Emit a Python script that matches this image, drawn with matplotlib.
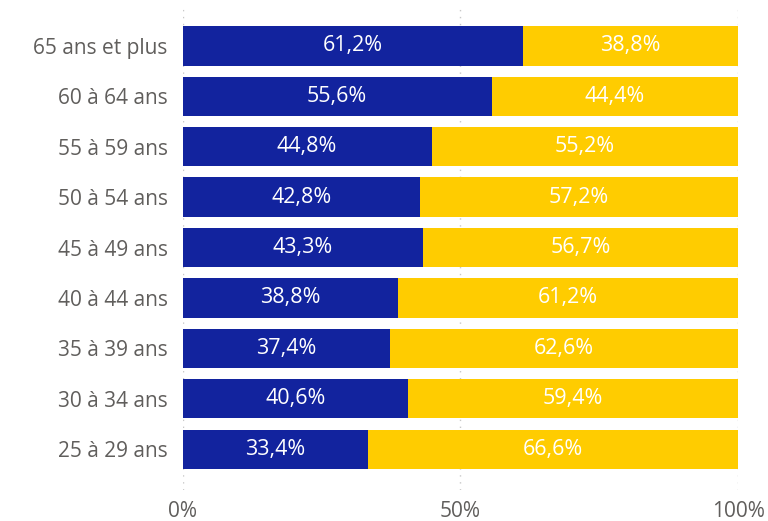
import matplotlib.pyplot as plt

# Data (top to bottom as in the picture)
groups = ['65 ans et plus', '60 à 64 ans', '55 à 59 ans', '50 à 54 ans', '45 à 49 ans',
          '40 à 44 ans', '35 à 39 ans', '30 à 34 ans', '25 à 29 ans']
blue_vals = [61.2, 55.6, 44.8, 42.8, 43.3, 38.8, 37.4, 40.6, 33.4]
yellow_vals = [38.8, 44.4, 55.2, 57.2, 56.7, 61.2, 62.6, 59.4, 66.6]
xticks = [0, 50, 100]
xtick_labels = ['0%', '50%', '100%']

blue = '#12239E'
yellow = '#FFCC00'
grey = '#605E5C'

plt.rcParams['font.family'] = ['Open Sans', 'DejaVu Sans']

fig = plt.figure(figsize=(7.68, 5.21), dpi=100)
ax = fig.add_axes([0.238, 0.0595, 0.723, 0.925])

n = len(groups)
ypos = list(range(n - 1, -1, -1))

ax.barh(ypos, blue_vals, height=0.78, color=blue, zorder=2)
ax.barh(ypos, yellow_vals, left=blue_vals, height=0.78, color=yellow, zorder=2)

def fmt(v):
    return f'{v:.1f}%'.replace('.', ',')

for y, b, yl in zip(ypos, blue_vals, yellow_vals):
    ax.text(b / 2, y, fmt(b), color='white', ha='center', va='center', fontsize=15.5, zorder=3)
    ax.text(b + yl / 2, y, fmt(yl), color='white', ha='center', va='center', fontsize=15.5, zorder=3)

ax.set_xlim(0, 100)
ax.set_ylim(-0.81, 8.75)
ax.set_yticks(ypos)
ax.set_yticklabels(groups, fontsize=15, color=grey)
ax.set_xticks(xticks)
ax.set_xticklabels(xtick_labels, fontsize=15, color=grey)
ax.tick_params(length=0)
ax.tick_params(axis='y', pad=11)
ax.tick_params(axis='x', pad=8)

for x in xticks:
    ax.axvline(x, color='#C8C8C8', linestyle=(0, (1, 4)), linewidth=1, zorder=1)

for s in ax.spines.values():
    s.set_visible(False)

fig.savefig('out.png', dpi=100)
